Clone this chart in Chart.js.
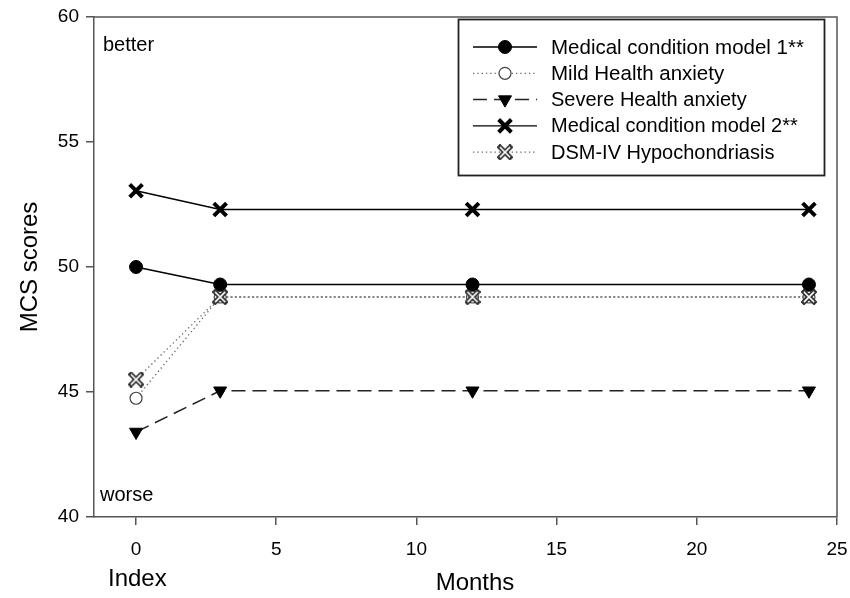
<!DOCTYPE html>
<html>
<head>
<meta charset="utf-8">
<script src="https://cdn.jsdelivr.net/npm/chart.js@4.4.0/dist/chart.umd.min.js"></script>
<style>
  body { margin: 0; background: #fff; }
  #wrap { width: 850px; height: 598px; }
</style>
</head>
<body>
<div id="wrap"><canvas id="chart" width="850" height="598"></canvas></div>
<script>
const months = [0, 3, 12, 24];
const model1 = [50.0, 49.3, 49.3, 49.3];
const mildHA = [44.75, 48.8, 48.8, 48.8];
const severeHA = [43.4, 45.05, 45.05, 45.05];
const model2 = [53.05, 52.3, 52.3, 52.3];
const dsmHypo = [45.5, 48.8, 48.8, 48.8];

const seriesNames = [
  "Medical condition model 1**",
  "Mild Health anxiety",
  "Severe Health anxiety",
  "Medical condition model 2**",
  "DSM-IV Hypochondriasis"
];
const xTicks = [0, 5, 10, 15, 20, 25];
const yTicks = [40, 45, 50, 55, 60];

const FONT = "'Liberation Sans', Arial, sans-serif";

// outlined X marker for the hypochondriasis group
function outlinedCross() {
  const c = document.createElement("canvas");
  c.width = 16; c.height = 16;
  const g = c.getContext("2d");
  g.lineCap = "square";
  g.strokeStyle = "#333";
  g.lineWidth = 5;
  g.beginPath();
  g.moveTo(3, 3); g.lineTo(13, 13);
  g.moveTo(13, 3); g.lineTo(3, 13);
  g.stroke();
  g.strokeStyle = "#fff";
  g.lineWidth = 1.6;
  g.beginPath();
  g.moveTo(3.5, 3.5); g.lineTo(12.5, 12.5);
  g.moveTo(12.5, 3.5); g.lineTo(3.5, 12.5);
  g.stroke();
  return c;
}
const dsmMarker = outlinedCross();

function toXY(ys) {
  return months.map((m, i) => ({ x: m, y: ys[i] }));
}

const datasets = [
  {
    label: seriesNames[0], data: toXY(model1), order: 0,
    borderColor: "#000", borderWidth: 1.5, borderDash: [],
    pointStyle: "circle", pointRadius: 6.5, pointBackgroundColor: "#000",
    pointBorderColor: "#000", pointBorderWidth: 1
  },
  {
    label: seriesNames[1], data: toXY(mildHA), order: 4,
    borderColor: "#666", borderWidth: 1.3, borderDash: [1.3, 3],
    pointStyle: "circle", pointRadius: 6, pointBackgroundColor: "#fff",
    pointBorderColor: "#444", pointBorderWidth: 1.2
  },
  {
    label: seriesNames[2], data: toXY(severeHA), order: 2,
    borderColor: "#222", borderWidth: 1.5, borderDash: [14, 7],
    pointStyle: "triangle", pointRotation: 180, pointRadius: 7.5,
    pointBackgroundColor: "#000", pointBorderColor: "#000", pointBorderWidth: 1
  },
  {
    label: seriesNames[3], data: toXY(model2), order: 1,
    borderColor: "#000", borderWidth: 1.3, borderDash: [],
    pointStyle: "crossRot", pointRadius: 9, pointBackgroundColor: "#000",
    pointBorderColor: "#000", pointBorderWidth: 4
  },
  {
    label: seriesNames[4], data: toXY(dsmHypo), order: 3,
    borderColor: "#666", borderWidth: 1.3, borderDash: [1.3, 3],
    pointStyle: dsmMarker, pointRadius: 8, pointBackgroundColor: "#fff",
    pointBorderColor: "#444", pointBorderWidth: 1
  }
];
datasets.forEach(d => { d.fill = false; d.tension = 0; d.pointHoverRadius = d.pointRadius; });

// frame on top/right, inner labels and the custom legend box
const decorations = {
  id: "decorations",
  afterDatasetsDraw(chart) {
    const { ctx, chartArea: a } = chart;
    ctx.save();
    ctx.strokeStyle = "#555";
    ctx.lineWidth = 1.5;
    ctx.beginPath();
    ctx.moveTo(a.left, a.top);
    ctx.lineTo(a.right, a.top);
    ctx.lineTo(a.right, a.bottom);
    ctx.stroke();

    ctx.fillStyle = "#000";
    ctx.font = "20px " + FONT;
    ctx.textBaseline = "middle";
    ctx.textAlign = "left";
    ctx.fillText("better", 103, 45);
    ctx.fillText("worse", 100, 495);
    ctx.font = "24px " + FONT;
    ctx.fillText("Index", 108, 579);
    ctx.textAlign = "center";
    ctx.fillText("Months", 475, 583);

    // legend
    const box = { x: 458.5, y: 19.5, w: 366, h: 156 };
    ctx.fillStyle = "#fff";
    ctx.fillRect(box.x, box.y, box.w, box.h);
    ctx.strokeStyle = "#222";
    ctx.lineWidth = 1.8;
    ctx.strokeRect(box.x, box.y, box.w, box.h);

    chart.data.datasets.forEach((d, i) => {
      const y = 47 + i * 26.3;
      ctx.save();
      ctx.strokeStyle = d.borderColor;
      ctx.lineWidth = d.borderWidth;
      ctx.setLineDash(d.borderDash);
      ctx.beginPath();
      ctx.moveTo(473, y);
      ctx.lineTo(537, y);
      ctx.stroke();
      ctx.restore();
      ctx.fillStyle = d.pointBackgroundColor;
      ctx.strokeStyle = d.pointBorderColor;
      ctx.lineWidth = d.pointBorderWidth;
      ctx.setLineDash([]);
      Chart.helpers.drawPoint(ctx, {
        pointStyle: d.pointStyle, rotation: d.pointRotation || 0,
        radius: d.pointRadius, borderWidth: d.pointBorderWidth
      }, 505, y);
      ctx.fillStyle = "#000";
      ctx.font = (i < 2 ? "20.5px " : "20px ") + FONT;
      ctx.textAlign = "left";
      ctx.textBaseline = "middle";
      ctx.fillText(d.label, 551, y + 1);
    });
    ctx.restore();
  }
};

new Chart(document.getElementById("chart"), {
  type: "line",
  data: { datasets: datasets },
  plugins: [decorations],
  options: {
    responsive: false,
    animation: false,
    events: [],
    layout: { padding: { top: 17, right: 10, bottom: 0, left: 0 } },
    plugins: { legend: { display: false }, tooltip: { enabled: false } },
    scales: {
      x: {
        type: "linear", min: -1.5, max: 25,
        afterBuildTicks: s => { s.ticks = xTicks.map(v => ({ value: v })); },
        afterFit: s => { s.height = 81; s.paddingRight = 0; s.paddingLeft = 0; },
        border: { display: true, color: "#555", width: 1.5 },
        grid: { drawOnChartArea: false, drawTicks: true, tickLength: 8, color: "#555", lineWidth: 1.5 },
        ticks: { color: "#000", padding: 13, font: { family: FONT, size: 19 } },
        title: { display: false }
      },
      y: {
        min: 40, max: 60,
        afterBuildTicks: s => { s.ticks = yTicks.map(v => ({ value: v })); },
        afterFit: s => { s.width = 94; s.paddingTop = 0; s.paddingBottom = 0; },
        border: { display: true, color: "#555", width: 1.5 },
        grid: { drawOnChartArea: false, drawTicks: true, tickLength: 8, color: "#555", lineWidth: 1.5 },
        ticks: { color: "#000", padding: 7, font: { family: FONT, size: 19 } },
        title: { display: true, text: "MCS scores", color: "#000", font: { family: FONT, size: 24 }, padding: { top: 16, bottom: 0 } }
      }
    }
  }
});
</script>
</body>
</html>
